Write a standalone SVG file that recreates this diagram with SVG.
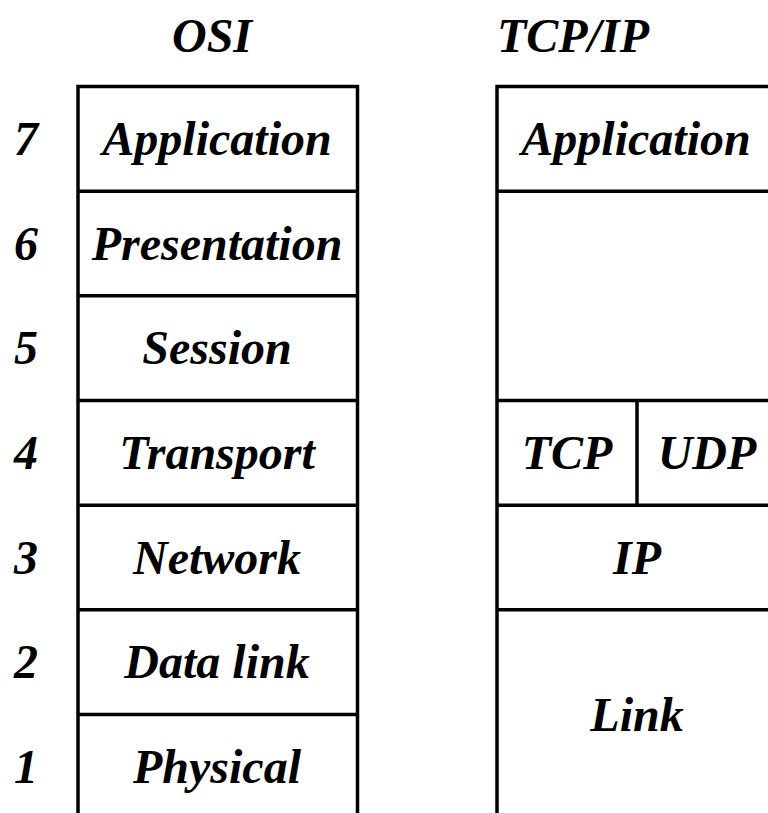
<svg xmlns="http://www.w3.org/2000/svg" width="768" height="813" viewBox="0 0 768 813">
<style>
text{font-family:"Liberation Serif","Times New Roman",serif;font-weight:bold;font-style:italic;font-size:48px;text-anchor:middle;fill:#000}
.b{fill:none;stroke:#000;stroke-width:3.5}
</style>
<rect width="768" height="813" fill="#fff"/>
<g id="headers">
<text x="212" y="52">OSI</text>
<text x="573" y="52">TCP/IP</text>
</g>
<g id="numbers">
<text x="26" y="155">7</text>
<text x="26" y="259.5">6</text>
<text x="26" y="364">5</text>
<text x="26" y="469">4</text>
<text x="26" y="573.5">3</text>
<text x="26" y="678">2</text>
<text x="26" y="782.5">1</text>
</g>
<g id="osi">
<path class="b" d="M78,830 V86.5 H357.5 V830"/>
<g id="osi7"><text x="217" y="155">Application</text></g>
<g id="osi6"><line class="b" x1="78" y1="191.2" x2="357.5" y2="191.2"/><text x="217" y="259.5">Presentation</text></g>
<g id="osi5"><line class="b" x1="78" y1="295.8" x2="357.5" y2="295.8"/><text x="217" y="364">Session</text></g>
<g id="osi4"><line class="b" x1="78" y1="400.5" x2="357.5" y2="400.5"/><text x="217" y="469">Transport</text></g>
<g id="osi3"><line class="b" x1="78" y1="505.2" x2="357.5" y2="505.2"/><text x="217" y="573.5">Network</text></g>
<g id="osi2"><line class="b" x1="78" y1="609.8" x2="357.5" y2="609.8"/><text x="217" y="678">Data link</text></g>
<g id="osi1"><line class="b" x1="78" y1="714.5" x2="357.5" y2="714.5"/><text x="217" y="782.5">Physical</text></g>
</g>
<g id="tcpip">
<path class="b" d="M497,830 V86.5 H790"/>
<g id="t-app"><text x="636" y="155">Application</text></g>
<g id="t-transport"><line class="b" x1="497" y1="191.2" x2="790" y2="191.2"/><line class="b" x1="497" y1="400.5" x2="790" y2="400.5"/><line class="b" x1="637" y1="400.5" x2="637" y2="505.2"/>
<text x="567" y="469">TCP</text><text x="707" y="469">UDP</text></g>
<g id="t-ip"><line class="b" x1="497" y1="505.2" x2="790" y2="505.2"/><text x="637" y="573.5">IP</text></g>
<g id="t-link"><line class="b" x1="497" y1="609.8" x2="790" y2="609.8"/><text x="637" y="731">Link</text></g>
</g>
</svg>
